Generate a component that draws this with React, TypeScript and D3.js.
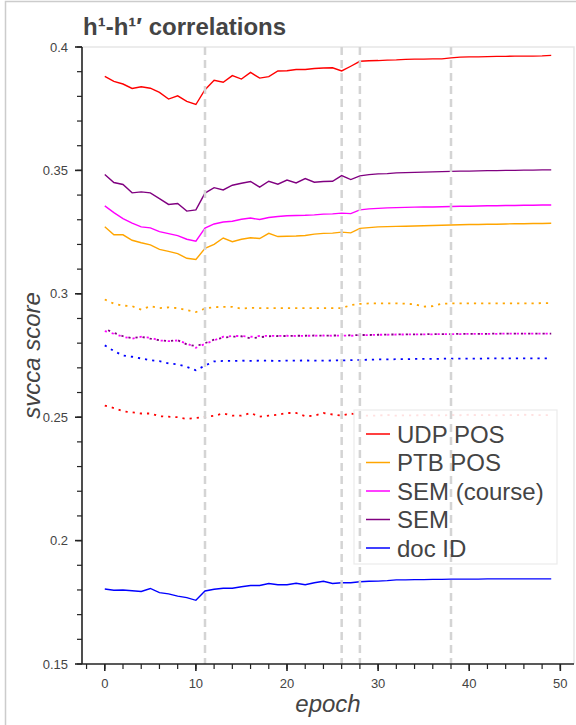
import React from 'react';
import * as d3 from 'd3';

// epochs 0..49
const epochs = d3.range(0, 50);

const udpSolid = [
  0.3881, 0.3861, 0.3850, 0.3832, 0.3839, 0.3833, 0.3816, 0.3789, 0.3802, 0.3780,
  0.3767, 0.3827, 0.3865, 0.3857, 0.3884, 0.3870, 0.3897, 0.3874, 0.3880, 0.3903,
  0.3904, 0.3909, 0.3909, 0.3913, 0.3915, 0.3916, 0.3903, 0.3922, 0.3942, 0.3944,
  0.3945, 0.3947, 0.3948, 0.3950, 0.3951, 0.3951, 0.3952, 0.3952, 0.3956, 0.3959,
  0.3960, 0.3960, 0.3961, 0.3962, 0.3962, 0.3963, 0.3963, 0.3963, 0.3964, 0.3966,
];
const ptbSolid = [
  0.3272, 0.3239, 0.3239, 0.3217, 0.3207, 0.3198, 0.3180, 0.3172, 0.3163, 0.3144,
  0.3139, 0.3184, 0.3200, 0.3226, 0.3211, 0.3221, 0.3227, 0.3224, 0.3245, 0.3232,
  0.3233, 0.3234, 0.3236, 0.3242, 0.3245, 0.3246, 0.3250, 0.3247, 0.3265, 0.3268,
  0.3271, 0.3272, 0.3273, 0.3274, 0.3275, 0.3276, 0.3277, 0.3278, 0.3279, 0.3280,
  0.3281, 0.3281, 0.3282, 0.3282, 0.3283, 0.3284, 0.3284, 0.3285, 0.3285, 0.3286,
];
const semCourseSolid = [
  0.3356, 0.3329, 0.3305, 0.3286, 0.3271, 0.3267, 0.3252, 0.3244, 0.3236, 0.3221,
  0.3213, 0.3266, 0.3283, 0.3291, 0.3294, 0.3302, 0.3307, 0.3301, 0.3309, 0.3313,
  0.3316, 0.3317, 0.3318, 0.3320, 0.3323, 0.3324, 0.3327, 0.3325, 0.3340, 0.3344,
  0.3346, 0.3348, 0.3349, 0.3350, 0.3351, 0.3352, 0.3352, 0.3353, 0.3354, 0.3355,
  0.3355, 0.3356, 0.3357, 0.3357, 0.3358, 0.3358, 0.3359, 0.3359, 0.3360, 0.3360,
];
const semSolid = [
  0.3483, 0.3451, 0.3443, 0.3409, 0.3413, 0.3409, 0.3386, 0.3362, 0.3366, 0.3335,
  0.3340, 0.3408, 0.3430, 0.3421, 0.3440, 0.3448, 0.3455, 0.3432, 0.3456, 0.3444,
  0.3461, 0.3449, 0.3467, 0.3452, 0.3455, 0.3456, 0.3479, 0.3463, 0.3478, 0.3483,
  0.3486, 0.3487, 0.3490, 0.3491, 0.3492, 0.3493, 0.3494, 0.3495, 0.3496, 0.3497,
  0.3497, 0.3498, 0.3499, 0.3499, 0.3500, 0.3500, 0.3501, 0.3501, 0.3502, 0.3502,
];
const docSolid = [
  0.1804, 0.1799, 0.1800, 0.1797, 0.1794, 0.1806, 0.1789, 0.1784, 0.1775, 0.1769,
  0.1758, 0.1796, 0.1803, 0.1807, 0.1807, 0.1813, 0.1818, 0.1818, 0.1826, 0.1821,
  0.1821, 0.1827, 0.1821, 0.1829, 0.1835, 0.1826, 0.1829, 0.1829, 0.1833, 0.1835,
  0.1836, 0.1838, 0.1841, 0.1841, 0.1842, 0.1842, 0.1843, 0.1843, 0.1844, 0.1844,
  0.1844, 0.1844, 0.1845, 0.1845, 0.1845, 0.1845, 0.1845, 0.1845, 0.1845, 0.1845,
];

// dotted (baseline) series
const udpDotted = [
  0.2547, 0.2537, 0.2524, 0.2520, 0.2515, 0.2515, 0.2504, 0.2502, 0.2500, 0.2493,
  0.2497, 0.2501, 0.2506, 0.2515, 0.2506, 0.2506, 0.2517, 0.2502, 0.2506, 0.2510,
  0.2517, 0.2517, 0.2504, 0.2506, 0.2517, 0.2511, 0.2506, 0.2515, 0.2508, 0.2506,
  0.2507, 0.2509, 0.2506, 0.2508, 0.2507, 0.2509, 0.2508, 0.2507, 0.2509, 0.2508,
  0.2510, 0.2508, 0.2509, 0.2507, 0.2509, 0.2508, 0.2510, 0.2509, 0.2508, 0.2509,
];
const ptbDotted = [
  0.2977, 0.2960, 0.2952, 0.2950, 0.2936, 0.2950, 0.2942, 0.2945, 0.2942, 0.2934,
  0.2926, 0.2940, 0.2946, 0.2947, 0.2947, 0.2940, 0.2943, 0.2942, 0.2942, 0.2942,
  0.2942, 0.2942, 0.2942, 0.2942, 0.2942, 0.2942, 0.2942, 0.2954, 0.2959, 0.2961,
  0.2961, 0.2961, 0.2961, 0.2960, 0.2957, 0.2948, 0.2950, 0.2960, 0.2961, 0.2961,
  0.2961, 0.2961, 0.2961, 0.2961, 0.2961, 0.2961, 0.2961, 0.2961, 0.2962, 0.2962,
];
const semCourseDotted = [
  0.2849, 0.2838, 0.2826, 0.2818, 0.2826, 0.2822, 0.2811, 0.2808, 0.2811, 0.2799,
  0.2781, 0.2797, 0.2811, 0.2826, 0.2829, 0.2829, 0.2826, 0.2829, 0.2830, 0.2829,
  0.2830, 0.2829, 0.2830, 0.2830, 0.2831, 0.2830, 0.2831, 0.2830, 0.2832, 0.2833,
  0.2834, 0.2834, 0.2835, 0.2835, 0.2836, 0.2836, 0.2836, 0.2837, 0.2837, 0.2837,
  0.2838, 0.2838, 0.2838, 0.2838, 0.2839, 0.2839, 0.2839, 0.2839, 0.2839, 0.2839,
];
const semDotted = [
  0.2858, 0.2842, 0.2828, 0.2820, 0.2826, 0.2818, 0.2812, 0.2808, 0.2812, 0.2795,
  0.2788, 0.2800, 0.2814, 0.2822, 0.2826, 0.2828, 0.2820, 0.2824, 0.2828, 0.2829,
  0.2829, 0.2830, 0.2830, 0.2831, 0.2830, 0.2831, 0.2831, 0.2832, 0.2833, 0.2833,
  0.2834, 0.2835, 0.2835, 0.2836, 0.2836, 0.2836, 0.2837, 0.2837, 0.2837, 0.2838,
  0.2838, 0.2838, 0.2838, 0.2839, 0.2839, 0.2839, 0.2839, 0.2839, 0.2839, 0.2839,
];
const docDotted = [
  0.2791, 0.2768, 0.2750, 0.2745, 0.2738, 0.2731, 0.2727, 0.2718, 0.2714, 0.2704,
  0.2690, 0.2709, 0.2726, 0.2728, 0.2728, 0.2729, 0.2728, 0.2729, 0.2729, 0.2728,
  0.2729, 0.2729, 0.2730, 0.2729, 0.2729, 0.2730, 0.2730, 0.2731, 0.2732, 0.2733,
  0.2734, 0.2734, 0.2735, 0.2735, 0.2736, 0.2736, 0.2736, 0.2737, 0.2737, 0.2737,
  0.2737, 0.2737, 0.2738, 0.2738, 0.2738, 0.2738, 0.2738, 0.2738, 0.2738, 0.2738,
];

const seriesNames = ['UDP POS', 'PTB POS', 'SEM (course)', 'SEM', 'doc ID'];
const seriesColors = ['#ff0000', '#ffa500', '#ff00ff', '#800080', '#0000ff'];
const solidValues = [udpSolid, ptbSolid, semCourseSolid, semSolid, docSolid];
const dottedValues = [udpDotted, ptbDotted, semCourseDotted, semDotted, docDotted];

const markerEpochs = [11, 26, 28, 38];
const yTickLabels = ['0.15', '0.2', '0.25', '0.3', '0.35', '0.4'];
const xTickLabels = ['0', '10', '20', '30', '40', '50'];

const W = 576;
const H = 725;
const left = 82;
const right = 574;
const top = 47;
const bottom = 664;
const font = "'Liberation Sans', Arial, Helvetica, sans-serif";
const ink = '#444';

export default function App() {
  const x = d3.scaleLinear().domain([-2.5, 51.5]).range([left, right]);
  const y = d3.scaleLinear().domain([0.15, 0.4]).range([bottom, top]);

  const line = d3.line<number>()
    .x((_, i) => x(epochs[i]))
    .y(d => y(d));

  const yMinor = d3.range(15, 41).map(v => v / 100);
  const xMinor = d3.range(-2, 51, 2);

  const legendX = 354;
  const legendY = 410;
  const rowH = 28.5;

  return (
    <svg width={W} height={H} style={{ position: 'absolute', left: 0, top: 0, background: '#fff' }}
      fontFamily={font}>
      <rect x={5.5} y={1.5} width={620} height={760} fill="#fff" stroke="#ccc" strokeWidth={1.5} />

      {/* title */}
      <text x={83} y={35} fontSize={24} fontWeight="bold" fill={ink}>h¹-h¹′ correlations</text>

      {/* plot frame */}
      <path d={`M${left},${top}H${right}V${bottom}`} fill="none" stroke="#e6e6e6" strokeWidth={1.5} />

      {/* dotted series */}
      {dottedValues.map((vals, i) => (
        <path key={'d' + i} d={line(vals) || ''} fill="none" stroke={seriesColors[i]}
          strokeWidth={1.8} strokeDasharray="2.2,5" strokeDashoffset={i === 3 ? 3.6 : 0} />
      ))}

      {/* solid series */}
      {solidValues.map((vals, i) => (
        <path key={'s' + i} d={line(vals) || ''} fill="none" stroke={seriesColors[i]} strokeWidth={1.4} />
      ))}

      {/* legend background */}
      <rect x={legendX} y={legendY} width={203} height={154} fill="#fff" fillOpacity={0.88}
        stroke="#ebebeb" strokeWidth={1.2} />

      {/* marker lines */}
      {markerEpochs.map(e => (
        <line key={e} x1={x(e)} x2={x(e)} y1={top} y2={bottom} stroke="#d4d4d4"
          strokeWidth={2.5} strokeDasharray="8,5" />
      ))}

      {/* legend items */}
      {seriesNames.map((name, i) => {
        const cy = legendY + 24 + i * rowH;
        return (
          <g key={name}>
            <line x1={legendX + 12} x2={legendX + 36} y1={cy} y2={cy} stroke={seriesColors[i]} strokeWidth={1.5} />
            <text x={legendX + 43} y={cy} dy="0.36em" fontSize={24} fill={ink}>{name}</text>
          </g>
        );
      })}

      {/* y axis */}
      <line x1={left} x2={left} y1={top} y2={bottom} stroke="#222" strokeWidth={1.6} />
      {yMinor.map(v => (
        <line key={v} x1={left - 5} x2={left} y1={y(v)} y2={y(v)} stroke="#222" strokeWidth={1.2} />
      ))}
      {yTickLabels.map(t => (
        <g key={t}>
          <line x1={left - 7} x2={left} y1={y(+t)} y2={y(+t)} stroke="#222" strokeWidth={1.6} />
          <text x={left - 14} y={y(+t)} dy="0.35em" textAnchor="end" fontSize={13} fill={ink}>{t}</text>
        </g>
      ))}

      {/* x axis */}
      <line x1={left} x2={right} y1={bottom} y2={bottom} stroke="#222" strokeWidth={1.6} />
      {xMinor.map(v => (
        <line key={v} x1={x(v)} x2={x(v)} y1={bottom} y2={bottom + 5} stroke="#222" strokeWidth={1.2} />
      ))}
      {xTickLabels.map(t => (
        <g key={t}>
          <line x1={x(+t)} x2={x(+t)} y1={bottom} y2={bottom + 7} stroke="#222" strokeWidth={1.6} />
          <text x={x(+t)} y={bottom + 24} textAnchor="middle" fontSize={13} fill={ink}>{t}</text>
        </g>
      ))}

      {/* axis titles */}
      <text x={(left + right) / 2} y={712} textAnchor="middle" fontSize={24} fontStyle="italic" fill={ink}>epoch</text>
      <text transform={`translate(40,${(top + bottom) / 2}) rotate(-90)`} textAnchor="middle" fontSize={24}
        fontStyle="italic" fill={ink}>svcca score</text>
    </svg>
  );
}
